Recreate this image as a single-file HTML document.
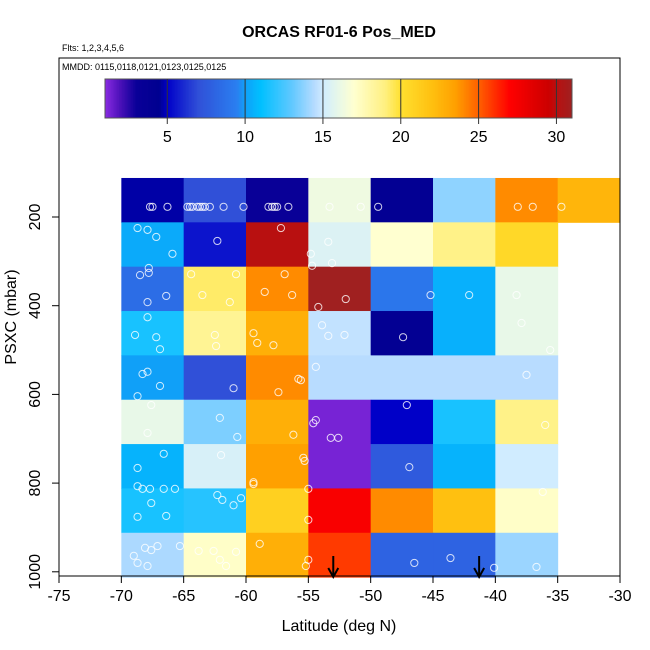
<!DOCTYPE html>
<html><head><meta charset="utf-8"><style>body{margin:0;background:#fff}svg{display:block;font-family:"Liberation Sans",sans-serif}</style></head>
<body>
<svg id="chart" width="650" height="650" viewBox="0 0 650 650" xmlns="http://www.w3.org/2000/svg">
<text x="339" y="37" text-anchor="middle" font-size="16" font-weight="bold">ORCAS RF01-6 Pos_MED</text>
<text x="62" y="51" font-size="9">Flts: 1,2,3,4,5,6</text>
<g id="cells"></g>
<g id="circles"></g>
<g id="cbar"></g>
<g id="axes"></g>
<text x="62" y="70" font-size="9">MMDD: 0115,0118,0121,0123,0125,0125</text>
<rect x="59" y="58" width="561" height="518" fill="none" stroke="#000"/>
<text x="339" y="631" text-anchor="middle" font-size="16">Latitude (deg N)</text>
<text transform="translate(16,317) rotate(-90)" text-anchor="middle" font-size="16">PSXC (mbar)</text>
</svg>
<script>
const latBins=[-70,-65,-60,-55,-50,-45,-40,-35];
const presBins=[112,212,312,412,512,612,712,812,912];
const cellValues=[
[4.7,7,3.2,16.3,4,13.8,24,22.5],
[10.3,5.5,30,15.5,17,18.8,20.5,null],
[8.5,19.3,24,31,9,10.5,16,null],
[11.5,18.5,22.8,14.7,4,10.5,16,null],
[10,7,24,14.5,14.5,14.5,14.5,null],
[16,13.5,22.8,1.3,5,11.5,18.8,null],
[10.6,15.3,23.5,1.3,7.5,10.6,15,null],
[11.5,11.8,21,27.3,24,22,17.2,null],
[14.3,17.2,22.8,25.8,8,8,14,null]];
const ptLat=[-67.7,-67.5,-66.3,-64.7,-64.5,-64.3,-63.9,-63.7,-63.5,-63.3,-62.9,-61.8,-60.2,-58.2,-57.9,-57.7,-57.5,-56.6,-53.3,-50.8,-49.4,-38.2,-37.0,-34.7,
-68.7,-67.9,-67.2,-65.9,-62.3,-57.2,-53.4,-54.8,-53.1,-54.7,
-67.8,-68.5,-67.8,-66.4,-67.9,-64.4,-60.8,-63.5,-61.3,-56.9,-58.5,-56.3,-54.2,-52.0,-45.2,-42.1,-38.3,
-67.9,-68.9,-67.2,-66.9,-62.5,-62.4,-59.4,-59.1,-57.8,-53.9,-53.4,-52.1,-47.4,-37.9,-35.6,
-68.3,-67.9,-66.9,-68.7,-61.0,-57.4,-55.8,-55.6,-54.4,-37.5,
-67.6,-67.9,-62.1,-60.7,-56.2,-54.6,-54.4,-53.2,-52.6,-47.1,-36.0,
-66.6,-68.7,-62.0,-55.4,-55.3,-46.9,-59.4,
-68.7,-68.3,-67.7,-66.6,-65.7,-68.7,-67.6,-66.4,-62.3,-61.9,-61.0,-60.4,-59.4,-55.0,-55.0,-36.2,
-69.0,-68.1,-67.6,-67.1,-68.7,-67.9,-65.3,-63.8,-62.6,-62.1,-61.6,-60.8,-58.9,-55.2,-55.0,-46.5,-43.6,-40.1,-36.7];
const ptPres=[177,177,177,177,177,177,177,177,177,177,177,177,177,177,177,177,177,177,177,177,177,177,177,177,
225,229,245,283,254,225,256,283,304,310,
315,331,326,378,392,329,329,376,392,329,369,376,403,385,376,376,376,
426,466,471,498,466,491,462,484,489,444,468,466,471,439,500,
554,549,581,604,586,595,565,568,538,556,
624,687,653,696,691,665,658,698,698,624,669,
734,766,737,743,750,764,802,
807,813,813,813,813,876,845,874,827,838,850,834,798,813,883,820,
964,946,951,942,980,987,942,953,953,973,987,955,937,987,973,980,969,991,989];
const arrowLat=[-53,-41.3];
const xTicks=[-75,-70,-65,-60,-55,-50,-45,-40,-35,-30];
const yTicks=[200,400,600,800,1000];
const cbTicks=[5,10,15,20,25,30];
const cmapVals=[1,2,3,4.5,5,7,9.5,10,11,13,14.5,15,16,17,19,20,22,23.5,25,27,29.5,30,31];
const cmapCols=["#8a2be2","#4a10b8","#0a0098","#000090","#0000c8","#3050d8","#2a80f0","#10a0f8","#00c0ff","#60c8ff","#b8dcff","#d0ecff","#e8f8e8","#ffffd0","#fff080","#ffe030","#ffc010","#ffa000","#ff6000","#ff0000","#cc0000","#b81010","#a02020"];
const NS="http://www.w3.org/2000/svg";
const xs=v=>59+(v+75)*12.467;
const ys=p=>128.3+p*0.4435;
const cbx=v=>105+(v-1)*15.567;
function hex(c){return [1,3,5].map(i=>parseInt(c.substr(i,2),16));}
function cmap(v){
 if(v<=cmapVals[0])return cmapCols[0];
 for(let i=1;i<cmapVals.length;i++){if(v<=cmapVals[i]){const t=(v-cmapVals[i-1])/(cmapVals[i]-cmapVals[i-1]);const a=hex(cmapCols[i-1]),b=hex(cmapCols[i]);return "rgb("+a.map((x,k)=>Math.round(x+(b[k]-x)*t)).join(",")+")";}}
 return cmapCols[cmapCols.length-1];}
function mk(tag,attrs,parent){const e=document.createElementNS(NS,tag);for(const k in attrs)e.setAttribute(k,attrs[k]);parent.appendChild(e);return e;}
const gc=document.getElementById('cells');
cellValues.forEach((row,r)=>row.forEach((v,c)=>{if(v===null)return;
 const e=mk('rect',{x:xs(latBins[c]),y:ys(presBins[r]),width:xs(latBins[c]+5)-xs(latBins[c])+0.5,height:ys(presBins[r]+100)-ys(presBins[r])+0.5,fill:cmap(v)},gc);
 
 }));
const gp=document.getElementById('circles');
ptLat.forEach((la,i)=>{const e=mk('circle',{cx:xs(la),cy:ys(ptPres[i]),r:3.6,fill:'none',stroke:'#fff','stroke-opacity':0.8,'stroke-width':1},gp);
 
 });
arrowLat.forEach(la=>{const x=xs(la);const g=mk('g',{},gp);
 
 
 mk('line',{x1:x,y1:556,x2:x,y2:575,stroke:'#000','stroke-width':2},g);
 mk('path',{d:`M${x-5} ${568} L${x} ${577} L${x+5} ${568}`,fill:'none',stroke:'#000','stroke-width':2},g);});
const gb=document.getElementById('cbar');
for(let v=1;v<31;v+=0.1){mk('rect',{x:cbx(v),y:79,width:15.567*0.1+0.4,height:39,fill:cmap(v+0.05)},gb);}
mk('rect',{x:105,y:79,width:467,height:39,fill:'none',stroke:'#555'},gb);
cbTicks.forEach(t=>{const x=cbx(t);mk('line',{x1:x,y1:79,x2:x,y2:124,stroke:'#333'},gb);
 const e=mk('text',{x:x,y:142,'text-anchor':'middle','font-size':16},gb);e.textContent=t;
 
 });
const ga=document.getElementById('axes');
xTicks.forEach(t=>{const x=xs(t);mk('line',{x1:x,y1:576,x2:x,y2:583,stroke:'#000'},ga);
 const e=mk('text',{x:x,y:601,'text-anchor':'middle','font-size':16},ga);e.textContent=t;
 
 });
yTicks.forEach(t=>{const y=ys(t);mk('line',{x1:52,y1:y,x2:59,y2:y,stroke:'#000'},ga);
 const e=mk('text',{transform:`translate(40,${y}) rotate(-90)`,'text-anchor':'middle','font-size':16},ga);e.textContent=t;
 
 });
</script>
</body></html>
